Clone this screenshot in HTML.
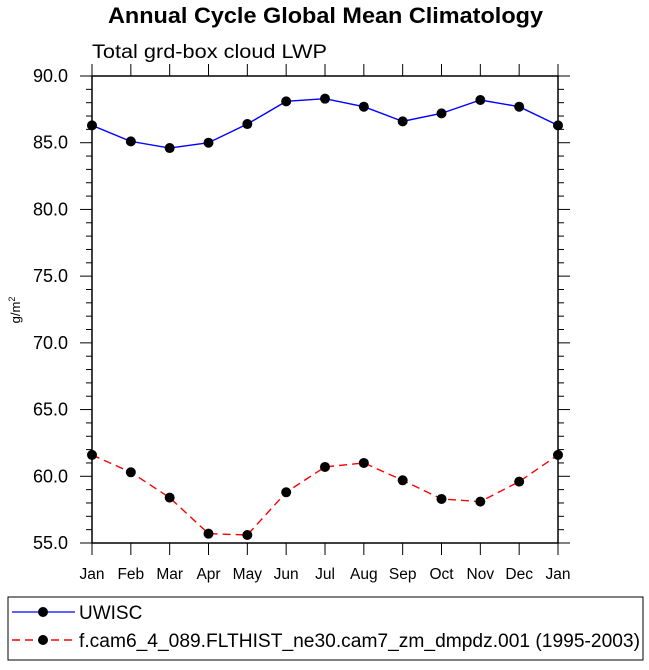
<!DOCTYPE html>
<html><head><meta charset="utf-8"><style>
body{margin:0;background:#fff;width:649px;height:665px;overflow:hidden;font-family:"Liberation Sans",sans-serif}
</style></head><body>
<svg width="649" height="665" xmlns="http://www.w3.org/2000/svg">
<text x="108" y="23" textLength="435" lengthAdjust="spacingAndGlyphs" font-size="22" font-weight="bold">Annual Cycle Global Mean Climatology</text>
<text x="92" y="58" textLength="235" lengthAdjust="spacingAndGlyphs" font-size="19">Total grd-box cloud LWP</text>
<text transform="translate(20,310) rotate(-90)" text-anchor="middle" font-size="13">g/m<tspan dy="-5" font-size="9">2</tspan></text>
<g id="axes"></g>
<g id="series"></g>
<rect x="8" y="597" width="635" height="63" fill="none" stroke="#000" stroke-width="1"/>
<line x1="12" y1="612" x2="75" y2="612" stroke="#0000ff" stroke-width="1.3"/>
<circle cx="43" cy="612" r="5"/>
<text x="79" y="619" font-size="19">UWISC</text>
<line x1="12" y1="640" x2="75" y2="640" stroke="#ff0000" stroke-width="1.5" stroke-dasharray="8,5"/>
<circle cx="43" cy="640" r="5"/>
<text x="79" y="647" font-size="19" textLength="561" lengthAdjust="spacingAndGlyphs">f.cam6_4_089.FLTHIST_ne30.cam7_zm_dmpdz.001 (1995-2003)</text>
</svg>
<script>
const months = ["Jan","Feb","Mar","Apr","May","Jun","Jul","Aug","Sep","Oct","Nov","Dec","Jan"];
const uwisc = [86.3,85.1,84.6,85.0,86.4,88.1,88.3,87.7,86.6,87.2,88.2,87.7,86.3];
const model = [61.6,60.3,58.4,55.7,55.6,58.8,60.7,61.0,59.7,58.3,58.1,59.6,61.6];
const yTicks = [55,60,65,70,75,80,85,90];
const yTickLabels = ["55.0","60.0","65.0","70.0","75.0","80.0","85.0","90.0"];
const X0=92,X1=558,Y0=76,Y1=543,YMIN=55,YMAX=90;
const NS="http://www.w3.org/2000/svg";
function xs(i){return X0+(X1-X0)*i/(months.length-1);}
function ys(v){return Y1-(v-YMIN)/(YMAX-YMIN)*(Y1-Y0);}
function mk(t,a,p){const e=document.createElementNS(NS,t);for(const k in a)e.setAttribute(k,a[k]);p.appendChild(e);return e;}
const ax=document.getElementById('axes');
const frame=mk('rect',{x:X0,y:Y0,width:X1-X0,height:Y1-Y0,fill:'none',stroke:'#000','stroke-width':1.5},ax);


for(let v=YMIN;v<=YMAX;v+=1){
  const y=ys(v);const major=(v%5===0);const L=major?12:6;
  mk('line',{x1:X0-L,y1:y,x2:X0,y2:y,stroke:'#000','stroke-width':1},ax);
  mk('line',{x1:X1,y1:y,x2:X1+L,y2:y,stroke:'#000','stroke-width':1},ax);
}
yTicks.forEach((v,i)=>{
  const t=mk('text',{x:X0-24,y:ys(v)+6,'text-anchor':'end','font-size':18},ax);
  t.textContent=yTickLabels[i];
  
  
});
months.forEach((m,i)=>{
  const x=xs(i);
  mk('line',{x1:x,y1:Y1,x2:x,y2:Y1+12,stroke:'#000','stroke-width':1},ax);
  mk('line',{x1:x,y1:Y0-12,x2:x,y2:Y0,stroke:'#000','stroke-width':1},ax);
  const t=mk('text',{x:x,y:579,'text-anchor':'middle','font-size':15.5},ax);
  t.textContent=m;
  
  
});
const sg=document.getElementById('series');
function draw(vals,color,dash,name){
  const pts=vals.map((v,i)=>xs(i)+','+ys(v)).join(' ');
  const a={points:pts,fill:'none',stroke:color,'stroke-width':1.4};
  if(dash)a['stroke-dasharray']=dash;
  const pl=mk('polyline',a,sg);
  
  
  vals.forEach((v,i)=>{
    const c=mk('circle',{cx:xs(i),cy:ys(v),r:5,fill:'#000'},sg);
    
    
  });
}
draw(uwisc,'#0000ff',null,'uwisc');
draw(model,'#ff0000','8,5','model');
</script>
</body></html>
